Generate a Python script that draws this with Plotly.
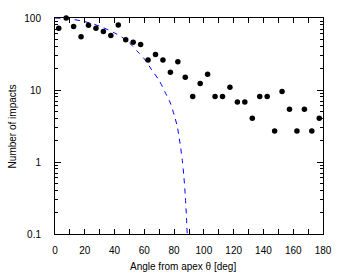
import plotly.graph_objects as go

# Observed impacts per 5-degree bin
angle_bins = [2.5, 7.5, 12.5, 17.5, 22.5, 27.5, 32.5, 37.5, 42.5, 47.5, 52.5, 57.5,
              62.5, 67.5, 72.5, 77.5, 82.5, 87.5, 92.5, 97.5, 102.5, 107.5, 112.5, 117.5,
              122.5, 127.5, 132.5, 137.5, 142.5, 147.5, 152.5, 157.5, 162.5, 167.5, 172.5, 177.5]
impacts = [72, 100, 76, 55, 79, 72, 65, 57, 80, 50, 46, 43,
           26, 31, 26, 17.6, 24.6, 15, 8.1, 12.3, 16.5, 8.1, 8.1, 10.9,
           6.8, 6.8, 4.06, 8.1, 8.1, 2.7, 9.5, 5.4, 2.7, 5.4, 2.7, 4.06]

# Model curve
model_angle = [0, 10, 20, 30, 40, 45, 50, 55, 60, 65, 70, 75, 77.5, 80, 82, 84, 85.5, 86.5, 87.5, 88.3, 88.8]
model_impacts = [100, 97, 89, 77, 62, 54, 45, 35, 27, 19, 13.5, 8.4, 6.6, 4.5, 3.2, 1.8, 1.05, 0.65, 0.34, 0.17, 0.1]

x_tickvals = [0, 10, 20, 30, 40, 50, 60, 70, 80, 90, 100, 110, 120, 130, 140, 150, 160, 170, 180]
x_ticktext = ["0", "", "20", "", "40", "", "60", "", "80", "", "100", "", "120", "", "140", "", "160", "", "180"]
y_tickvals = [0.1, 1, 10, 100]
y_ticktext = ["0.1", "1", "10", "100"]
y_minor = [0.2, 0.3, 0.4, 0.5, 0.6, 0.7, 0.8, 0.9, 2, 3, 4, 5, 6, 7, 8, 9,
           20, 30, 40, 50, 60, 70, 80, 90]
x_title = "Angle from apex θ [deg]"
y_title = "Number of impacts"

font = dict(family="Liberation Sans, Arial, sans-serif", size=10, color="black")

fig = go.Figure()
fig.add_trace(go.Scatter(
    x=model_angle, y=model_impacts, mode="lines",
    line=dict(color="#0000ff", width=1, dash="5px,5px", shape="spline", smoothing=0.8),
    showlegend=False, hoverinfo="skip"))
fig.add_trace(go.Scatter(
    x=angle_bins, y=impacts, mode="markers",
    marker=dict(color="black", size=5.5),
    cliponaxis=False, showlegend=False))

fig.update_layout(
    width=344, height=278,
    margin=dict(l=55, r=18, t=14, b=44),
    paper_bgcolor="white", plot_bgcolor="white",
    font=font,
    xaxis=dict(
        range=[0, 180], showgrid=False, zeroline=False,
        showline=True, linecolor="black", linewidth=1, mirror="ticks",
        ticks="inside", ticklen=5, tickcolor="black", tickwidth=1,
        tickvals=x_tickvals, ticktext=x_ticktext,
        ticklabelstandoff=7,
    ),
    yaxis=dict(
        type="log", range=[-1, 2], showgrid=False, zeroline=False,
        showline=True, linecolor="black", linewidth=1, mirror="ticks",
        ticks="inside", ticklen=6, tickcolor="black", tickwidth=1,
        tickvals=y_tickvals, ticktext=y_ticktext,
        ticklabelstandoff=11,
        minor=dict(ticks="inside", ticklen=3, tickcolor="black", tickwidth=1,
                   tickvals=y_minor, showgrid=False),
    ),
    annotations=[
        dict(text=x_title, xref="paper", yref="paper", x=0.476, y=-0.15,
             xanchor="center", yanchor="middle", showarrow=False, font=font),
        dict(text=y_title, xref="paper", yref="paper", x=-0.159, y=0.5,
             xanchor="center", yanchor="middle", textangle=-90, showarrow=False, font=font),
    ],
)

fig.write_html("out.html")
